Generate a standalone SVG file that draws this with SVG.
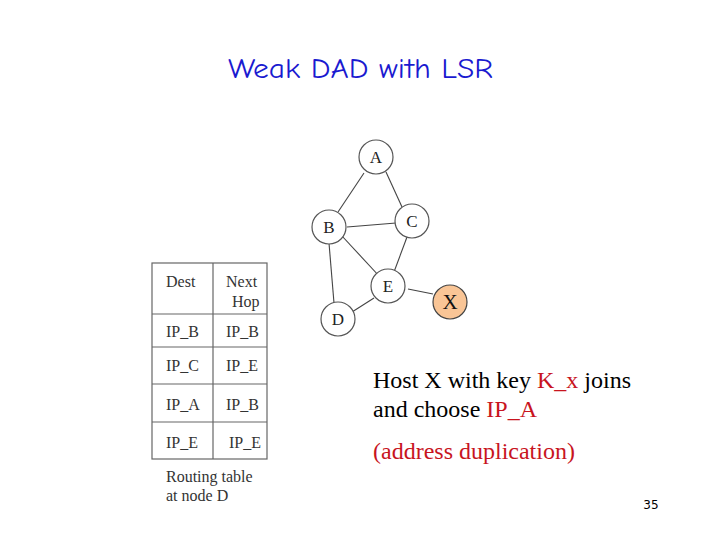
<svg xmlns="http://www.w3.org/2000/svg" width="720" height="540" viewBox="0 0 720 540">
<style>
.node circle{fill:#fff;stroke:#555;stroke-width:1.2}
.node text{font-family:"Liberation Serif",serif;font-size:17px;fill:#222;text-anchor:middle}
.edge{stroke:#444;stroke-width:1.1;fill:none}
.tbl line,.tbl rect{stroke:#666;stroke-width:1.2;fill:none}
.tt{font-family:"Liberation Serif",serif;font-size:16px;fill:#333}
.body{font-family:"Liberation Serif",serif;font-size:24px;fill:#000}
.red{fill:#c8141e}
</style>
<rect width="720" height="540" fill="#fff"/>
<text x="228" y="78" textLength="265" lengthAdjust="spacingAndGlyphs" font-family="'Comic Sans MS','Comic Neue','DejaVu Sans',sans-serif" font-size="28" fill="#1a1ad0">Weak DAD with LSR</text>
<g id="connectors">
<line class="edge" x1="364" y1="173" x2="338" y2="212"/>
<line class="edge" x1="386" y1="172" x2="402" y2="207"/>
<line class="edge" x1="347" y1="227" x2="396" y2="223"/>
<line class="edge" x1="342" y1="236" x2="380" y2="277"/>
<line class="edge" x1="407" y1="237" x2="394" y2="272"/>
<line class="edge" x1="329" y1="243" x2="334" y2="303"/>
<line class="edge" x1="352" y1="312" x2="374" y2="298"/>
<line class="edge" x1="408" y1="289" x2="433" y2="294"/>
</g>
<g id="node-A" class="node"><circle cx="376" cy="157" r="17"/><text x="376" y="163">A</text></g>
<g id="node-B" class="node"><circle cx="329" cy="227" r="17"/><text x="329" y="233">B</text></g>
<g id="node-C" class="node"><circle cx="412" cy="221" r="17"/><text x="412" y="227">C</text></g>
<g id="node-E" class="node"><circle cx="388" cy="286" r="17"/><text x="388" y="292">E</text></g>
<g id="node-D" class="node"><circle cx="338" cy="319" r="17"/><text x="338" y="325">D</text></g>
<g id="node-X" class="node"><circle cx="450" cy="302" r="17" style="fill:#f9c596;stroke:#444"/><text x="450" y="309" style="font-size:21px;fill:#111">X</text></g>
<g id="routing-table" class="tbl">
<rect x="152" y="263" width="115" height="196"/>
<line x1="213" y1="263" x2="213" y2="459"/>
<line x1="152" y1="314" x2="267" y2="314"/>
<line x1="152" y1="347" x2="267" y2="347"/>
<line x1="152" y1="384" x2="267" y2="384"/>
<line x1="152" y1="422" x2="267" y2="422"/>
<text class="tt" x="166" y="287">Dest</text>
<text class="tt" x="226" y="287">Next</text>
<text class="tt" x="232" y="307">Hop</text>
<text class="tt" x="166" y="337">IP_B</text>
<text class="tt" x="226" y="337">IP_B</text>
<text class="tt" x="166" y="371">IP_C</text>
<text class="tt" x="226" y="371">IP_E</text>
<text class="tt" x="166" y="410">IP_A</text>
<text class="tt" x="226" y="410">IP_B</text>
<text class="tt" x="166" y="448">IP_E</text>
<text class="tt" x="229" y="448">IP_E</text>
<text class="tt" x="166" y="482">Routing table</text>
<text class="tt" x="166" y="501">at node D</text>
</g>
<text class="body" x="373" y="388">Host X with key <tspan class="red">K_x</tspan> joins</text>
<text class="body" x="373" y="417">and choose <tspan class="red">IP_A</tspan></text>
<text class="body red" x="373" y="459">(address duplication)</text>
<text x="651" y="509" text-anchor="middle" font-family="'DejaVu Sans',sans-serif" font-size="12" fill="#000">35</text>
</svg>
